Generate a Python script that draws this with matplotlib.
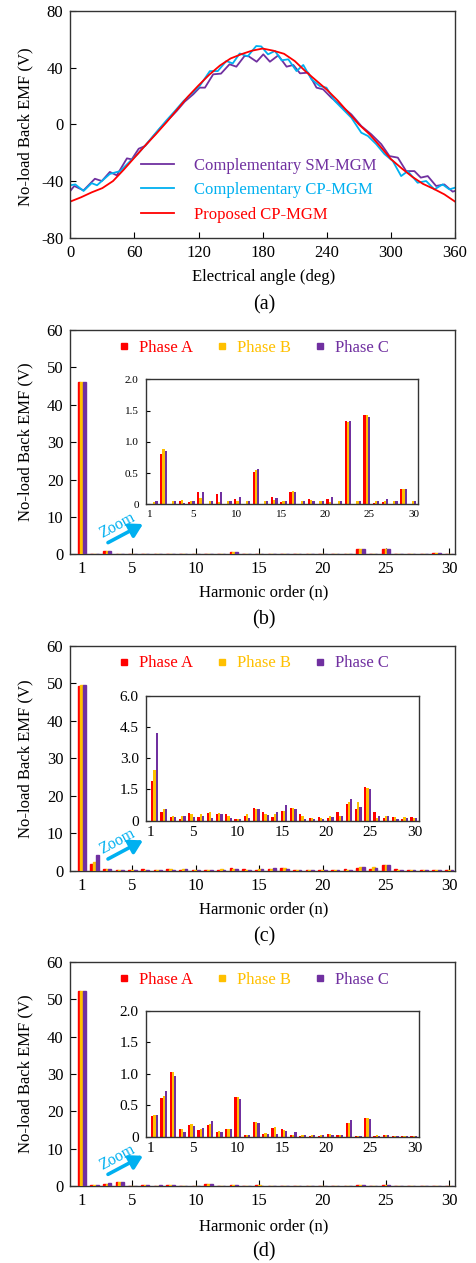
import matplotlib
matplotlib.use('Agg')
import matplotlib.pyplot as plt
from matplotlib.lines import Line2D

plt.rcParams['font.family'] = ['Liberation Serif', 'DejaVu Serif']
plt.rcParams['axes.unicode_minus'] = False
plt.rcParams['font.size'] = 12

# ---------------- data: panel (a) ----------------
red_angle = [0, 10, 20, 30, 40, 50, 60, 70, 80, 90, 100, 110, 120, 130, 140, 150, 160, 170, 180,
             190, 200, 210, 220, 230, 240, 250, 260, 270, 280, 290, 300, 310, 320, 330, 340, 350, 360]
red_emf = [-54.5, -51.5, -48, -45, -40, -32, -23.5, -15, -7, 1.5, 10.5, 19.5, 27.5, 35, 41.5, 46.5, 49.5, 52, 53.5,
           52, 49.8, 44.7, 37.5, 31, 24.5, 17, 8.5, 0, -7, -15.5, -24.5, -31, -37, -42, -45.5, -49.4, -54.5]

sm_angle = [0, 3.7, 12.4, 23, 29.5, 37, 43.5, 53, 57.5, 64, 70, 77, 84, 90, 99.5, 107, 115, 121, 126, 133.7,
            141, 149, 155.4, 163, 166.6, 174.4, 180.6, 186.8, 194.6, 202.4, 208.7, 215, 222.6, 230.4, 236.6,
            244.3, 253.7, 263, 272.3, 281.6, 291, 298.7, 306.5, 314.3, 322, 328, 334.5, 342.3, 350, 357.8, 360]
sm_emf = [-47, -43.5, -46.6, -38.4, -40, -33.6, -36, -24, -24.7, -17.2, -15.3, -9, -2.8, 1.9, 9.4, 16, 21.2, 25.9, 25.9, 35.3,
          35.8, 42.4, 40.7, 48.2, 48.2, 44.2, 49.4, 44.2, 48.7, 40.7, 41.9, 36, 36.5, 25.9, 24.7,
          18.8, 12.9, 7, -1.2, -7, -14, -22.4, -23.5, -33, -33, -37.6, -36.5, -43.5, -42.4, -47.5, -47]

cp_angle = [0, 4.7, 12.4, 20, 25, 28, 37, 46.6, 56, 63, 70, 80, 90, 98, 106, 114, 121, 130.6, 138, 146, 152,
            158.5, 166, 174, 178.7, 185, 191.5, 197.7, 204, 211.7, 218, 225.7, 233.5, 239.7, 247.5, 256.8, 263,
            272.3, 278.5, 286.3, 294, 301.8, 309.6, 315.8, 325, 333, 340.7, 348.4, 354.7, 360]
cp_emf = [-43, -42.4, -47, -41.5, -43, -41, -35, -33, -26, -21, -15, -6, 2.8, 9.5, 16.5, 22, 27, 37.6, 37.6, 44.7, 43,
          50, 48, 55.3, 55, 49.4, 51.8, 45.2, 45.9, 37.6, 41.9, 31.8, 27, 25.9, 16.5, 9.4, 4.7,
          -5.9, -8.2, -14, -21, -25.9, -36.5, -33, -41.2, -40, -45.9, -42.4, -45.9, -44.7]

# ---------------- data: harmonic spectra (b), (c), (d) ----------------
harmonics = list(range(1, 31))
main_tick_labels = [1, 5, 10, 15, 20, 25, 30]

b_A = [46.0, 0.01, 0.80, 0.01, 0.05, 0.03, 0.20, 0.01, 0.165, 0.01, 0.08, 0.01, 0.52, 0.01, 0.12,
       0.03, 0.20, 0.01, 0.08, 0.01, 0.08, 0.01, 1.33, 0.01, 1.43, 0.015, 0.035, 0.01, 0.245, 0.01]
b_B = [46.1, 0.04, 0.89, 0.045, 0.075, 0.045, 0.10, 0.05, 0.04, 0.05, 0.045, 0.05, 0.55, 0.05, 0.07,
       0.05, 0.21, 0.05, 0.075, 0.05, 0.04, 0.05, 1.32, 0.05, 1.43, 0.05, 0.06, 0.05, 0.245, 0.05]
b_C = [46.1, 0.05, 0.85, 0.05, 0.02, 0.05, 0.19, 0.05, 0.20, 0.05, 0.12, 0.05, 0.56, 0.05, 0.10,
       0.05, 0.19, 0.05, 0.05, 0.05, 0.12, 0.05, 1.34, 0.05, 1.40, 0.05, 0.085, 0.05, 0.245, 0.05]

c_A = [49.3, 1.90, 0.43, 0.18, 0.10, 0.37, 0.19, 0.38, 0.32, 0.32, 0.10, 0.24, 0.59, 0.43, 0.19,
       0.48, 0.59, 0.30, 0.13, 0.19, 0.14, 0.42, 0.78, 0.58, 1.63, 0.40, 0.14, 0.19, 0.08, 0.18]
c_B = [49.5, 2.45, 0.58, 0.22, 0.22, 0.32, 0.30, 0.42, 0.37, 0.24, 0.10, 0.34, 0.58, 0.30, 0.34,
       0.48, 0.62, 0.22, 0.11, 0.14, 0.24, 0.22, 0.91, 0.90, 1.57, 0.11, 0.24, 0.18, 0.19, 0.13]
c_C = [49.5, 4.19, 0.58, 0.18, 0.22, 0.19, 0.24, 0.11, 0.34, 0.11, 0.10, 0.13, 0.58, 0.29, 0.42,
       0.77, 0.58, 0.10, 0.10, 0.06, 0.19, 0.24, 1.04, 0.67, 1.54, 0.24, 0.24, 0.10, 0.13, 0.11]

d_A = [52.2, 0.335, 0.62, 1.03, 0.13, 0.18, 0.11, 0.19, 0.075, 0.13, 0.63, 0.02, 0.24, 0.05, 0.145,
       0.12, 0.03, 0.01, 0.01, 0.01, 0.045, 0.025, 0.22, 0.01, 0.29, 0.015, 0.02, 0.01, 0.01, 0.005]
d_B = [52.3, 0.345, 0.64, 1.03, 0.13, 0.20, 0.12, 0.20, 0.09, 0.13, 0.63, 0.02, 0.24, 0.06, 0.16,
       0.11, 0.03, 0.025, 0.02, 0.02, 0.04, 0.025, 0.22, 0.01, 0.30, 0.02, 0.02, 0.015, 0.015, 0.015]
d_C = [52.3, 0.35, 0.72, 0.97, 0.08, 0.165, 0.145, 0.245, 0.07, 0.13, 0.60, 0.035, 0.22, 0.05, 0.05,
       0.085, 0.08, 0.02, 0.025, 0.02, 0.02, 0.03, 0.265, 0.01, 0.28, 0.015, 0.02, 0.01, 0.01, 0.01]

phase_names = ['Phase A', 'Phase B', 'Phase C']

# ---------------- styles ----------------
RED = '#FF0000'
ORANGE = '#FFC000'
PURPLE = '#7030A0'
CYAN = '#00B0F0'
SPINE = '#333333'
phase_colors = [RED, ORANGE, PURPLE]

W, H = 476, 1263
fig = plt.figure(figsize=(W / 100, H / 100), dpi=100)


def rect(l, t, r, b):
    return [l / W, 1 - b / H, (r - l) / W, (b - t) / H]


def style_axes(ax, lw=1.0):
    for s in ax.spines.values():
        s.set_linewidth(lw)
        s.set_color(SPINE)


# ---------------- panel (a) ----------------
axa = fig.add_axes(rect(70.3, 11, 455, 237.7))
axa.plot(sm_angle, sm_emf, color=PURPLE, lw=1.3, label='Complementary SM-MGM')
axa.plot(cp_angle, cp_emf, color=CYAN, lw=1.3, label='Complementary CP-MGM')
axa.plot(red_angle, red_emf, color=RED, lw=1.3, label='Proposed CP-MGM')
axa.set_xlim(0, 360)
axa.set_ylim(-80, 80)
axa.set_xticks(range(0, 361, 60))
axa.set_yticks([-80, -40, 0, 40, 80])
axa.tick_params(direction='in', length=4, width=0.8, labelsize=12, pad=5)
style_axes(axa)
axa.legend(loc='upper left', bbox_to_anchor=(141 / W, 1 - 158 / H), bbox_transform=fig.transFigure,
           frameon=False, labelcolor='linecolor', handlelength=1.95, handletextpad=1.25,
           labelspacing=0.5, borderpad=0, borderaxespad=0, fontsize=12)
fig.text(25 / W, 1 - 126.7 / H, 'No-load Back EMF (V)', rotation=90, ha='center', va='center', fontsize=12)
fig.text(264 / W, 1 - 277 / H, 'Electrical angle (deg)', ha='center', va='center', fontsize=12)
fig.text(264 / W, 1 - 305 / H, '(a)', ha='center', va='center', fontsize=14.5)


# ---------------- spectrum panels ----------------
def spectrum_panel(top, bottom, in_top, in_bottom, in_right, A, B, C, in_ylim, in_yticks, in_ylabels,
                   in_font, panel_label, xlabel_y, label_y):
    ax = fig.add_axes(rect(70.3, top, 455, bottom))
    data = [A, B, C]
    w = 0.22
    for k, (vals, col) in enumerate(zip(data, phase_colors)):
        pos = [h + (k - 1) * w for h in harmonics]
        ax.bar(pos, vals, width=w, color=col, edgecolor=col, linewidth=1.0, zorder=3)
    ax.set_xlim(0.1, 30.45)
    ax.set_ylim(0, 60)
    ax.set_yticks(range(0, 61, 10))
    ax.set_xticks(main_tick_labels)
    ax.tick_params(direction='in', length=4, width=0.8, labelsize=12, pad=5)
    style_axes(ax)
    handles = [Line2D([], [], marker='s', linestyle='none', color=c, markersize=4) for c in phase_colors]
    ax.legend(handles, phase_names, loc='center', bbox_to_anchor=(0.478, 0.921), ncol=3, frameon=False,
              handlelength=0.5, handletextpad=0.65, columnspacing=1.5, labelcolor=phase_colors,
              fontsize=12, borderpad=0, borderaxespad=0)
    # zoom arrow
    ax.annotate('', xy=(0.189, 0.135), xytext=(0.098, 0.052), xycoords='axes fraction',
                arrowprops=dict(arrowstyle='-|>,head_length=0.55,head_width=0.32', lw=2.6, color=CYAN,
                                mutation_scale=14, shrinkA=0, shrinkB=0))
    ax.text(0.121, 0.128, 'Zoom', transform=ax.transAxes, rotation=28, color=CYAN, fontsize=11.5,
            ha='center', va='center')

    # inset
    ins = fig.add_axes(rect(145.7, in_top, in_right, in_bottom))
    hs = harmonics[1:]
    wi = 0.24
    for k, (vals, col) in enumerate(zip(data, phase_colors)):
        pos = [(h - 1) + (k - 1) * wi for h in hs]
        ins.bar(pos, vals[1:], width=wi, color=col, edgecolor='none')
    ins.set_xlim(0.06, 29.6)
    ins.set_ylim(*in_ylim)
    ins.set_yticks(in_yticks)
    ins.set_yticklabels(in_ylabels)
    ins.set_xticks([0.55, 5.2, 9.9, 14.8, 19.5, 24.25, 29.1])
    ins.set_xticklabels([str(L) for L in main_tick_labels])
    ins.tick_params(axis='y', direction='in', length=3, width=0.8, labelsize=in_font, pad=5)
    ins.tick_params(axis='x', direction='in', length=0, labelsize=in_font, pad=4)
    style_axes(ins)

    fig.text(25 / W, 1 - (top + bottom) / 2 / H, 'No-load Back EMF (V)', rotation=90, ha='center',
             va='center', fontsize=12)
    fig.text(264 / W, 1 - xlabel_y / H, 'Harmonic order (n)', ha='center', va='center', fontsize=12)
    fig.text(264 / W, 1 - label_y / H, panel_label, ha='center', va='center', fontsize=14.5)
    return ax, ins


spectrum_panel(330, 554.3, 379.3, 504.3, 418.3, b_A, b_B, b_C, (0, 2.0), [0, 0.5, 1.0, 1.5, 2.0],
               ['0', '0.5', '1.0', '1.5', '2.0'], 8, '(b)', 592, 620)
spectrum_panel(645.7, 870.7, 695.7, 820.7, 419.3, c_A, c_B, c_C, (0, 6.0), [0, 1.5, 3.0, 4.5, 6.0],
               ['0', '1.5', '3.0', '4.5', '6.0'], 11, '(c)', 909, 937)
spectrum_panel(962, 1186, 1011, 1136.7, 419.3, d_A, d_B, d_C, (0, 2.0), [0, 0.5, 1.0, 1.5, 2.0],
               ['0', '0.5', '1.0', '1.5', '2.0'], 11, '(d)', 1226, 1252)

fig.savefig('out.png', dpi=100)
